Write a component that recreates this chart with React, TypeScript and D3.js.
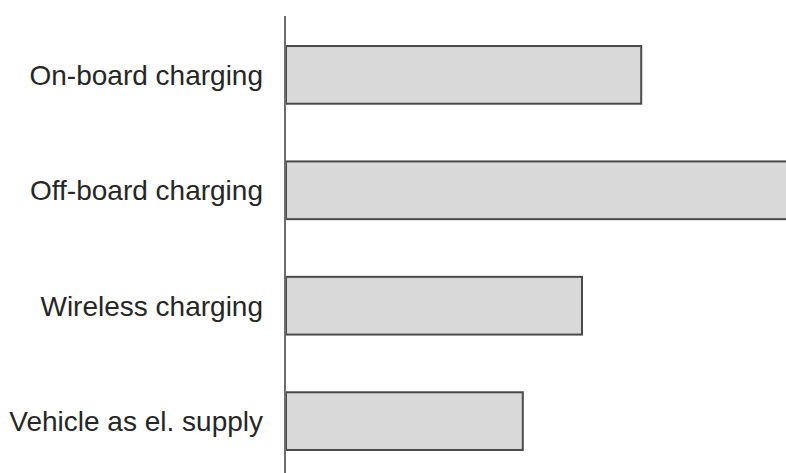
// App.tsx
import React, { useEffect, useRef } from "react";
import * as d3 from "d3";

const categories = [
  "On-board charging",
  "Off-board charging",
  "Wireless charging",
  "Vehicle as el. supply",
];
// relative bar lengths (off-board runs past the edge)
const values = [6, 9, 5, 4];

const W = 786;
const H = 473;

const App = () => {
  const ref = useRef<SVGSVGElement>(null);

  useEffect(() => {
    const svg = d3.select(ref.current);
    svg.selectAll("*").remove();

    const axisX = 285;

    const y = d3
      .scaleBand<string>()
      .domain(categories)
      .range([16, 480])
      .paddingInner(0.5)
      .paddingOuter(0.26);

    const x = d3.scaleLinear().domain([0, 10]).range([axisX + 1, axisX + 1 + 592]);

    // bars
    svg
      .selectAll(".bar")
      .data(values)
      .enter()
      .append("rect")
      .attr("class", "bar")
      .attr("x", x(0))
      .attr("y", (d, i) => y(categories[i])!)
      .attr("width", (d) => x(d) - x(0))
      .attr("height", y.bandwidth())
      .attr("fill", "#d9d9d9")
      .attr("stroke", "#4a4a4a")
      .attr("stroke-width", 2);

    // axis line
    svg
      .append("line")
      .attr("x1", axisX)
      .attr("x2", axisX)
      .attr("y1", 16)
      .attr("y2", H)
      .attr("stroke", "#6e6e6e")
      .attr("stroke-width", 2);

    // category labels
    svg
      .selectAll(".label")
      .data(categories)
      .enter()
      .append("text")
      .attr("class", "label")
      .attr("x", axisX - 22)
      .attr("y", (d) => y(d)! + y.bandwidth() / 2)
      .attr("dy", "0.35em")
      .style("text-anchor", "end")
      .style("font-family", "'Liberation Sans', Arial, sans-serif")
      .style("font-size", "28px")
      .style("fill", "#262626")
      .text((d) => d);
  }, []);

  return (
    <svg
      ref={ref}
      width={W}
      height={H}
      style={{ position: "absolute", left: 0, top: 0, background: "#fff" }}
    />
  );
};

export default App;
